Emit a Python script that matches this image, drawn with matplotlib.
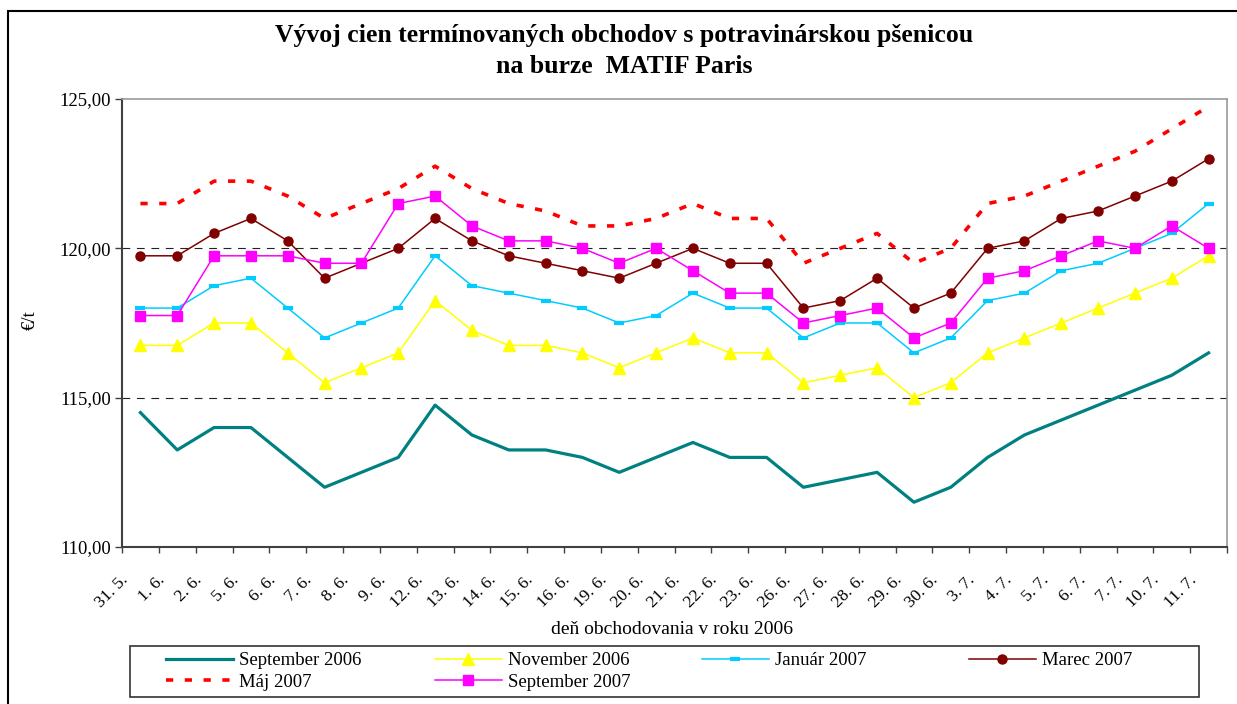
import numpy as np
import matplotlib
matplotlib.use('Agg')
import matplotlib.pyplot as plt
from matplotlib.patches import Rectangle

plt.rcParams['font.family'] = ['Liberation Serif', 'DejaVu Serif']

# obchodne dni (31.5. - 11.7.2006)
days = ['31. 5.', '1. 6.', '2. 6.', '5. 6.', '6. 6.', '7. 6.', '8. 6.', '9. 6.',
        '12. 6.', '13. 6.', '14. 6.', '15. 6.', '16. 6.', '19. 6.', '20. 6.',
        '21. 6.', '22. 6.', '23. 6.', '26. 6.', '27. 6.', '28. 6.', '29. 6.',
        '30. 6.', '3. 7.', '4. 7.', '5. 7.', '6. 7.', '7. 7.', '10. 7.', '11. 7.']

# ceny v EUR/t odcitane z grafu
sep_2006 = [114.5, 113.25, 114.0, 114.0, 113.0, 112.0, 112.5, 113.0, 114.75, 113.75,
            113.25, 113.25, 113.0, 112.5, 113.0, 113.5, 113.0, 113.0, 112.0, 112.25,
            112.5, 111.5, 112.0, 113.0, 113.75, 114.25, 114.75, 115.25, 115.75, 116.5]
nov_2006 = [116.75, 116.75, 117.5, 117.5, 116.5, 115.5, 116.0, 116.5, 118.25, 117.25,
            116.75, 116.75, 116.5, 116.0, 116.5, 117.0, 116.5, 116.5, 115.5, 115.75,
            116.0, 115.0, 115.5, 116.5, 117.0, 117.5, 118.0, 118.5, 119.0, 119.75]
jan_2007 = [118.0, 118.0, 118.75, 119.0, 118.0, 117.0, 117.5, 118.0, 119.75, 118.75,
            118.5, 118.25, 118.0, 117.5, 117.75, 118.5, 118.0, 118.0, 117.0, 117.5,
            117.5, 116.5, 117.0, 118.25, 118.5, 119.25, 119.5, 120.0, 120.5, 121.5]
mar_2007 = [119.75, 119.75, 120.5, 121.0, 120.25, 119.0, 119.5, 120.0, 121.0, 120.25,
            119.75, 119.5, 119.25, 119.0, 119.5, 120.0, 119.5, 119.5, 118.0, 118.25,
            119.0, 118.0, 118.5, 120.0, 120.25, 121.0, 121.25, 121.75, 122.25, 123.0]
maj_2007 = [121.5, 121.5, 122.25, 122.25, 121.75, 121.0, 121.5, 122.0, 122.75, 122.0,
            121.5, 121.25, 120.75, 120.75, 121.0, 121.5, 121.0, 121.0, 119.5, 120.0,
            120.5, 119.5, 120.0, 121.5, 121.75, 122.25, 122.75, 123.25, 124.0, 124.75]
sep_2007 = [117.75, 117.75, 119.75, 119.75, 119.75, 119.5, 119.5, 121.5, 121.75, 120.75,
            120.25, 120.25, 120.0, 119.5, 120.0, 119.25, 118.5, 118.5, 117.5, 117.75,
            118.0, 117.0, 117.5, 119.0, 119.25, 119.75, 120.25, 120.0, 120.75, 120.0]

y_ticks = [110, 115, 120, 125]
y_labels = ['110,00', '115,00', '120,00', '125,00']

W, H = 1237, 704
fig = plt.figure(figsize=(W / 100, H / 100), dpi=100)
ax = fig.add_axes([122 / W, 1 - 547 / H, (1227 - 122) / W, (547 - 99) / H])

x = np.arange(len(days))

l_sep06, = ax.plot(x, sep_2006, color='#008080', lw=2.3, label='September 2006')
l_nov06, = ax.plot(x, nov_2006, color='#FFFF00', lw=1.1, marker='^', ms=8,
                   label='November 2006')
l_jan07, = ax.plot(x, jan_2007, color='#00CCFF', lw=1.1, marker='_', ms=7, mew=3,
                   label='Január 2007')
l_mar07, = ax.plot(x, mar_2007, color='#800000', lw=1.1, marker='o', ms=6.5,
                   label='Marec 2007')
l_maj07, = ax.plot(x, maj_2007, color='#FF0000', lw=2.6, ls=(0, (2, 3.2)),
                   label='Máj 2007')
l_sep07, = ax.plot(x, sep_2007, color='#FF00FF', lw=1.1, marker='s', ms=6.5,
                   label='September 2007')

# mriezka - len 115 a 120
for yv in [115, 120]:
    ax.axhline(yv, color='#222222', lw=0.8, ls=(0, (7, 6)), zorder=0)

ax.set_xlim(-0.5, len(days) - 0.5)
ax.set_ylim(110, 125)
ax.set_yticks(y_ticks)
ax.set_yticklabels(y_labels, fontsize=13.5)
# popisky posunute trochu dolava, ako v Exceli
ax.set_xticks(x - 0.4)
ax.set_xticklabels(days, fontsize=12.5, rotation=45, ha='right', va='center',
                   rotation_mode='anchor')
ax.set_xticks(np.arange(-0.5, len(days)), minor=True)
ax.tick_params(axis='x', which='major', length=0, pad=22)
ax.tick_params(axis='x', which='minor', length=4, width=1, color='#404040')
ax.tick_params(axis='y', length=5, width=1, color='#404040', pad=3)

for s in ['left', 'bottom']:
    ax.spines[s].set_color('#404040')
    ax.spines[s].set_linewidth(1.5)
for s in ['top', 'right']:
    ax.spines[s].set_color('#999999')
    ax.spines[s].set_linewidth(1.2)

ax.set_ylabel('€/t', fontsize=13.5)
ax.yaxis.set_label_coords(-0.075, 0.507)
ax.set_xlabel('deň obchodovania v roku 2006', fontsize=14)
ax.xaxis.set_label_coords(0.498, -0.166)

fig.suptitle('Vývoj cien termínovaných obchodov s potravinárskou pšenicou\n'
             'na burze  MATIF Paris', x=624 / W, y=1 - 24 / H, va='top',
             fontsize=18.5, fontweight='bold', linespacing=1.45)

# legenda - 4 stlpce s rovnakou sirkou ako v Exceli
columns = [[l_sep06, l_maj07], [l_nov06, l_sep07], [l_jan07], [l_mar07]]
col_x = [166, 435, 702, 969]
for hs, cx in zip(columns, col_x):
    fig.legend(handles=hs, labels=[h.get_label() for h in hs], loc='upper left',
               bbox_to_anchor=(cx / W, 1 - 652 / H), fontsize=13.5,
               handlelength=3.55, handletextpad=0.32, borderpad=0,
               borderaxespad=0, labelspacing=0.25, frameon=False)

# ramcek legendy
fig.patches.append(Rectangle((130 / W, 1 - 697 / H), (1199 - 130) / W, 51 / H,
                             transform=fig.transFigure, fill=False,
                             edgecolor='#333333', lw=1.2))
# ramcek okolo celeho grafu
fig.patches.append(Rectangle((8 / W, -0.1), 1.2, 1.1 - 11 / H, transform=fig.transFigure,
                             fill=False, edgecolor='black', lw=1.5))

fig.savefig('out.png', dpi=100)
